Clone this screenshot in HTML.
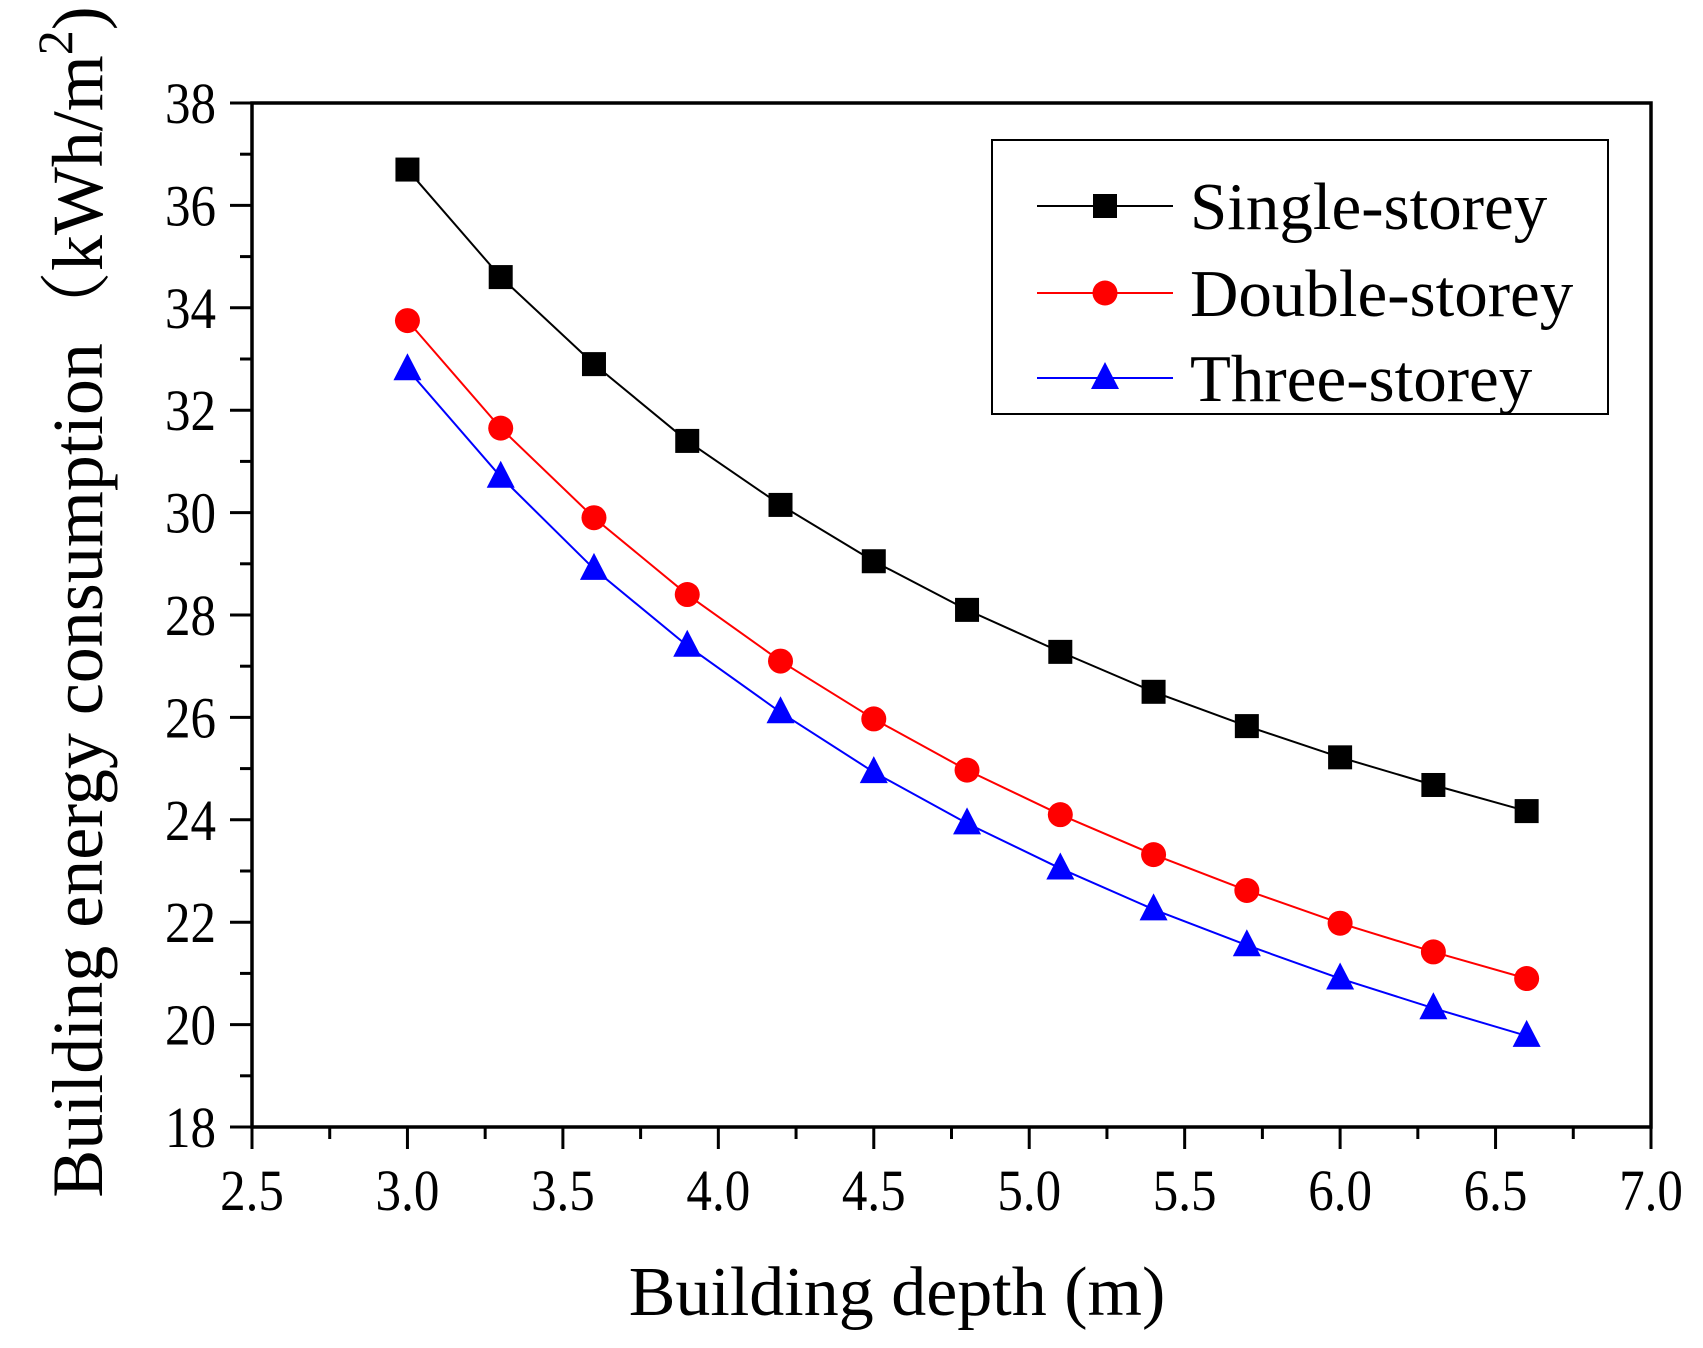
<!DOCTYPE html>
<html><head><meta charset="utf-8"><style>
html,body{margin:0;padding:0;background:#fff;}
svg{display:block;font-family:"Liberation Serif","Noto Serif CJK SC",serif;}
</style></head><body>
<svg id="chart" width="1703" height="1348" viewBox="0 0 1703 1348">
<g id="axes"></g><g id="series"></g><g id="legend"></g>
</svg>
<script>
const xValues=[3.0,3.3,3.6,3.9,4.2,4.5,4.8,5.1,5.4,5.7,6.0,6.3,6.6];
const singleStorey=[36.7,34.6,32.9,31.4,30.15,29.05,28.1,27.28,26.5,25.83,25.22,24.68,24.17];
const doubleStorey=[33.75,31.65,29.9,28.4,27.1,25.97,24.97,24.1,23.32,22.62,21.98,21.42,20.9];
const threeStorey=[32.8,30.7,28.9,27.4,26.1,24.93,23.93,23.05,22.25,21.55,20.9,20.32,19.78];
const xTicks=["2.5","3.0","3.5","4.0","4.5","5.0","5.5","6.0","6.5","7.0"];
const yTicks=["18","20","22","24","26","28","30","32","34","36","38"];
const seriesNames=["Single-storey","Double-storey","Three-storey"];

const NS="http://www.w3.org/2000/svg";
const L=252,R=1651,T=103,B=1127;
const xMin=2.5,xMax=7.0,yMin=18,yMax=38;
const sx=v=>L+(v-xMin)/(xMax-xMin)*(R-L);
const sy=v=>B-(v-yMin)/(yMax-yMin)*(B-T);
function mk(tag,attrs,parent){const e=document.createElementNS(NS,tag);for(const k in attrs)e.setAttribute(k,attrs[k]);parent.appendChild(e);return e;}
const axes=document.getElementById('axes');
const frame=mk('rect',{x:L,y:T,width:R-L,height:B-T,fill:'none',stroke:'#000','stroke-width':3.5},axes);


xTicks.forEach((t,i)=>{const v=parseFloat(t);const x=sx(v);
 const tk=mk('line',{x1:x,y1:B,x2:x,y2:B+22,stroke:'#000','stroke-width':3},axes);
 
 
 if(i<xTicks.length-1){const xm=sx(v+0.25);const m=mk('line',{x1:xm,y1:B,x2:xm,y2:B+12,stroke:'#000','stroke-width':3},axes);
  
  }
 const tx=mk('text',{x:0,y:0,'font-size':58,'text-anchor':'middle',transform:`translate(${x},${B+83}) scale(0.88,1)`},axes);tx.textContent=t;
 
 
});
yTicks.forEach((t,i)=>{const v=parseFloat(t);const y=sy(v);
 const tk=mk('line',{x1:L-22,y1:y,x2:L,y2:y,stroke:'#000','stroke-width':3},axes);
 
 
 if(i<yTicks.length-1){const ym=sy(v+1);const m=mk('line',{x1:L-12,y1:ym,x2:L,y2:ym,stroke:'#000','stroke-width':3},axes);
  
  }
 const tx=mk('text',{x:0,y:0,'font-size':58,'text-anchor':'end',transform:`translate(${L-36},${y+20}) scale(0.88,1)`},axes);tx.textContent=t;
 
 
});
const xl=mk('text',{x:897,y:1315,'font-size':70,'text-anchor':'middle'},axes);xl.textContent="Building depth (m)";


const yl=mk('text',{x:0,y:0,'font-size':72,'text-anchor':'middle',transform:'translate(102,602) rotate(-90)'},axes);
yl.innerHTML='Building energy consumption（kWh/m<tspan dy="-30" font-size="50">2</tspan><tspan dy="30">)</tspan>';



const colors=["#000","#f00","#00f"];
const data=[singleStorey,doubleStorey,threeStorey];
const shapes=["square","circle","triangle"];
const sg=document.getElementById('series');
function marker(shape,x,y,c,parent){
 let e;
 if(shape==="square")e=mk('rect',{x:x-12,y:y-12,width:24,height:24,fill:c},parent);
 else if(shape==="circle")e=mk('circle',{cx:x,cy:y,r:12.5,fill:c},parent);
 else e=mk('polygon',{points:`${x},${y-16} ${x-14},${y+11} ${x+14},${y+11}`,fill:c},parent);
 return e;
}
data.forEach((arr,si)=>{
 const g=mk('g',{},sg);
 
 
 const pts=arr.map((v,i)=>sx(xValues[i])+','+sy(v)).join(' ');
 const pl=mk('polyline',{points:pts,fill:'none',stroke:colors[si],'stroke-width':2},g);
 
 
 arr.forEach((v,i)=>{const m=marker(shapes[si],sx(xValues[i]),sy(v),colors[si],g);
  
  });
});
const lg=document.getElementById('legend');


const lb=mk('rect',{x:992,y:140,width:616,height:274,fill:'#fff',stroke:'#000','stroke-width':2},lg);


const rowsY=[206,293,378];
seriesNames.forEach((n,i)=>{
 const g=mk('g',{},lg);
 
 
 mk('line',{x1:1037,y1:rowsY[i],x2:1173,y2:rowsY[i],stroke:colors[i],'stroke-width':2},g);
 marker(shapes[i],1105,rowsY[i],colors[i],g);
 const t=mk('text',{x:1190,y:rowsY[i]+23,'font-size':67},g);t.textContent=n;
});
</script>
</body></html>
